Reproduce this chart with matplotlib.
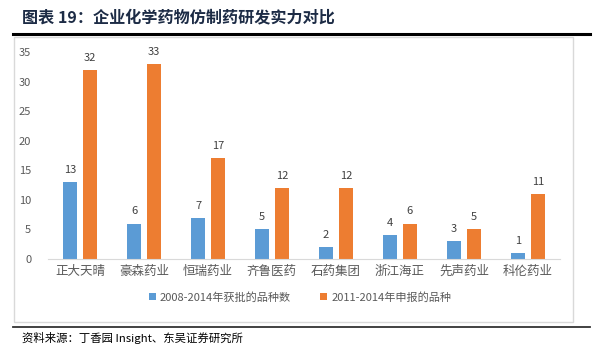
import numpy as np
import matplotlib.pyplot as plt
from matplotlib.lines import Line2D
from matplotlib.patches import Rectangle

plt.rcParams['font.family'] = ['Noto Sans CJK SC', 'DejaVu Sans']

companies = ['正大天晴', '豪森药业', '恒瑞药业', '齐鲁医药', '石药集团', '浙江海正', '先声药业', '科伦药业']
approved = [13, 6, 7, 5, 2, 4, 3, 1]
applied = [32, 33, 17, 12, 12, 6, 5, 11]
series_names = ['2008-2014年获批的品种数', '2011-2014年申报的品种']

blue = '#5B9BD5'
orange = '#ED7D31'
grey = '#595959'

fig = plt.figure(figsize=(6, 3.52), dpi=100)
W, H = 600, 352

# title and rules
fig.text(22 / W, 1 - 17 / H, '图表 19：企业化学药物仿制药研发实力对比', fontsize=11.6,
         fontweight='bold', color='#1c2b45', va='center', ha='left')
fig.add_artist(Line2D([13 / W, 590 / W], [1 - 34 / H, 1 - 34 / H], color='black', lw=2.2))
fig.add_artist(Rectangle((14 / W, 1 - 322 / H), (573 - 14) / W, (322 - 37) / H,
                         fill=False, edgecolor='#d9d9d9', lw=1))
fig.add_artist(Line2D([13 / W, 590 / W], [1 - 327 / H, 1 - 327 / H], color='#333333', lw=1.3))
fig.text(22 / W, 1 - 338 / H, '资料来源：丁香园 Insight、东吴证券研究所', fontsize=8.2,
         color='black', va='center', ha='left')

ax = fig.add_axes([48 / W, 1 - 259 / H, (560 - 48) / W, (259 - 52) / H])
x = np.arange(len(companies))
bw = 0.23
b1 = ax.bar(x - bw / 2 - 0.04, approved, bw, color=blue, label=series_names[0])
b2 = ax.bar(x + bw / 2 + 0.04, applied, bw, color=orange, label=series_names[1])
for bars in (b1, b2):
    for r in bars:
        ax.text(r.get_x() + r.get_width() / 2, r.get_height() + 1.2, str(int(r.get_height())),
                ha='center', va='bottom', fontsize=8, color='#404040')

ax.set_xlim(-0.5, len(companies) - 0.5)
ax.set_ylim(0, 35)
ax.set_yticks(range(0, 36, 5))
ax.set_xticks(x)
ax.set_xticklabels(companies, fontsize=9, color=grey)
ax.tick_params(axis='y', labelsize=8, labelcolor=grey, length=0, pad=12)
ax.tick_params(axis='x', length=0, pad=4)
for s in ['top', 'right', 'left']:
    ax.spines[s].set_visible(False)
ax.spines['bottom'].set_color('#d9d9d9')
ax.set_facecolor('none')

fig.legend(handles=[b1, b2], loc='center', bbox_to_anchor=(300 / W, 1 - 297 / H), ncol=2,
           frameon=False, fontsize=8, labelcolor=grey, handlelength=0.6, handleheight=0.6,
           columnspacing=2.6, handletextpad=0.4)

fig.savefig('out.png', dpi=100)
